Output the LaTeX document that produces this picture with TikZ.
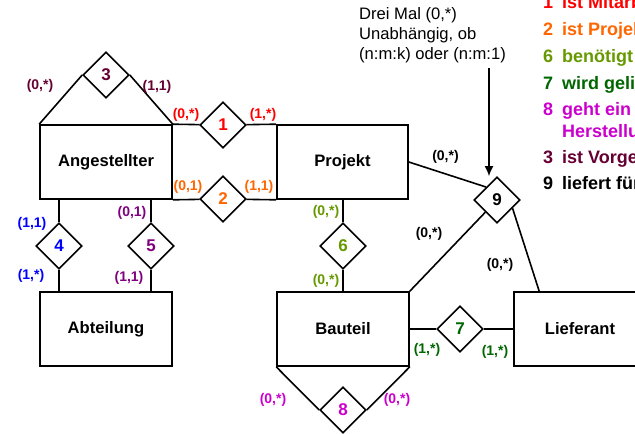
\documentclass[tikz,border=0pt]{standalone}
\usepackage{fontspec}
\setmainfont{Liberation Sans}
\usetikzlibrary{shapes.geometric,arrows.meta,calc}
\definecolor{cOne}{RGB}{255,0,0}
\definecolor{cTwo}{RGB}{255,102,0}
\definecolor{cThree}{RGB}{102,0,51}
\definecolor{cFour}{RGB}{0,0,255}
\definecolor{cFive}{RGB}{128,0,128}
\definecolor{cSix}{RGB}{102,153,0}
\definecolor{cSeven}{RGB}{0,102,0}
\definecolor{cEight}{RGB}{204,0,204}
\begin{document}
\begin{tikzpicture}[x=1pt,y=-1pt,
  ent/.style={draw, line width=1.6pt, minimum width=132pt, minimum height=74pt, inner sep=0pt, font=\fontsize{16.6}{20}\selectfont\bfseries},
  rel/.style={draw, diamond, line width=1.6pt, minimum width=46pt, minimum height=46pt, inner sep=0pt, fill=white, font=\fontsize{17}{20}\selectfont\bfseries},
  card/.style={inner sep=0pt, font=\fontsize{14}{16}\selectfont\bfseries},
  leg/.style={anchor=base west, inner sep=0pt, font=\fontsize{18}{20}\selectfont\bfseries},
  note/.style={anchor=base west, inner sep=0pt, font=\fontsize{16.6}{20}\selectfont},
  conn/.style={line width=1.6pt}]
\useasboundingbox (0,0) rectangle (635,434);
\clip (0,0) rectangle (635,434);
% entities
\node[ent] (ang) at (106,162) {Angestellter};
\node[ent, minimum width=131pt] (proj) at (342.5,162) {Projekt};
\node[ent] (abt) at (106,329) {Abteilung};
\node[ent] (bau) at (343,329) {Bauteil};
\node[ent] (lief) at (580,329) {Lieferant};
% relationships
\node[rel, text=cOne] (d1) at (223,125) {1};
\node[rel, text=cTwo] (d2) at (223,199) {2};
\node[rel, text=cThree] (d3) at (106,75) {3};
\node[rel, text=cFour] (d4) at (59,246) {4};
\node[rel, text=cFive] (d5) at (151,246) {5};
\node[rel, text=cSix] (d6) at (343,246) {6};
\node[rel, text=cSeven] (d7) at (460,329) {7};
\node[rel, text=cEight] (d8) at (343,410) {8};
\node[rel] (d9) at (497,200) {9};
% connectors
\draw[conn] (ang.north west) -- (d3.west);
\draw[conn] (d3.east) -- (ang.north east);
\draw[conn] (ang.north east) -- (d1) -- (proj.north west);
\draw[conn] (ang.south east) -- (d2) -- (proj.south west);
\draw[conn] (d4 |- ang.south) -- (d4) -- (d4 |- abt.north);
\draw[conn] (d5 |- ang.south) -- (d5) -- (d5 |- abt.north);
\draw[conn] (d6 |- proj.south) -- (d6) -- (d6 |- bau.north);
\draw[conn] (bau.east) -- (d7) -- (lief.west);
\draw[conn] (bau.south west) -- (d8.west);
\draw[conn] (d8.east) -- (bau.south east);
\draw[conn] (proj.east) -- (d9.130);
\draw[conn] (bau.north east) -- (d9);
\coordinate (lfoot) at ($(lief.north west)+(26,0)$);
\draw[conn] (lfoot) -- (d9.-28);
\coordinate (atop) at (489,68);
\draw[conn, -{Latex[length=10pt,width=9pt]}] (atop) -- (atop |- d9.north);
% cardinalities
\node[card, text=cThree] (k3a) at (40,86) {(0,*)};
\node[card, text=cThree] (k3b) at (157,87) {(1,1)};
\node[card, text=cOne] (k1a) at (186,115) {(0,*)};
\node[card, text=cOne] (k1b) at (263,115) {(1,*)};
\node[card, text=cTwo] (k2a) at (188,187) {(0,1)};
\node[card, text=cTwo] (k2b) at (259,187) {(1,1)};
\node[card, text=cFour] (k4a) at (32,224) {(1,1)};
\node[card, text=cFour] (k4b) at (31,276) {(1,*)};
\node[card, text=cFive] (k5a) at (132,213) {(0,1)};
\node[card, text=cFive] (k5b) at (129,278) {(1,1)};
\node[card, text=cSix] (k6a) at (326,212) {(0,*)};
\node[card, text=cSix] (k6b) at (326,281) {(0,*)};
\node[card] (k9a) at (445.5,157) {(0,*)};
\node[card] (k9b) at (429,234) {(0,*)};
\node[card] (k9c) at (500,265) {(0,*)};
\node[card, text=cSeven] (k7a) at (427,350) {(1,*)};
\node[card, text=cSeven] (k7b) at (495,352) {(1,*)};
\node[card, text=cEight] (k8a) at (273,400) {(0,*)};
\node[card, text=cEight] (k8b) at (397,400) {(0,*)};
% note
\node[note] (n1) at (359,19) {Drei Mal (0,*)};
\node[note] (n2) at (359,39) {Unabhängig, ob};
\node[note] (n3) at (359,59) {(n:m:k) oder (n:m:1)};
% legend
\node[leg, text=cOne] (l1) at (543,8) {\makebox[19pt][l]{1}ist Mitarbeiter in};
\node[leg, text=cTwo] (l2) at (543,35) {\makebox[19pt][l]{2}ist Projektleiter von};
\node[leg, text=cSix] (l6) at (543,62) {\makebox[19pt][l]{6}benötigt};
\node[leg, text=cSeven] (l7) at (543,89) {\makebox[19pt][l]{7}wird geliefert von};
\node[leg, text=cEight] (l8) at (543,115) {\makebox[19pt][l]{8}geht ein in};
\node[leg, text=cEight] (l8b) at (562,137) {Herstellung von};
\node[leg, text=cThree] (l3) at (543,163) {\makebox[19pt][l]{3}ist Vorgesetzter von};
\node[leg] (l9) at (543,189) {\makebox[19pt][l]{9}liefert für};
\end{tikzpicture}
\end{document}
